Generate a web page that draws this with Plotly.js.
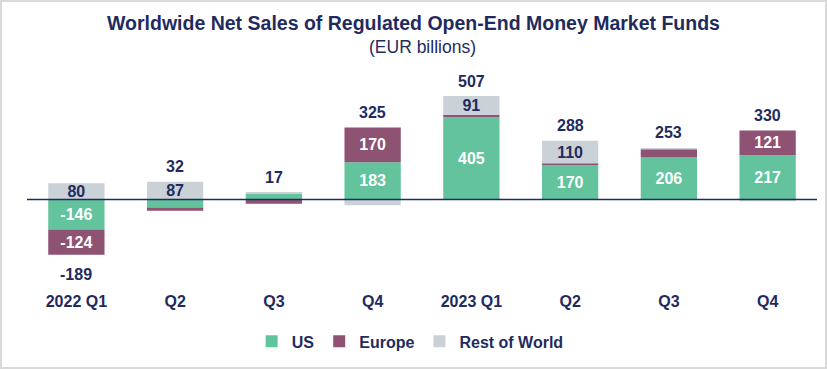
<!DOCTYPE html>
<html>
<head>
<meta charset="utf-8">
<script src="https://cdn.plot.ly/plotly-3.0.1.min.js"></script>
<style>
  html, body { margin: 0; padding: 0; background: #ffffff; }
  #wrap { position: relative; width: 827px; height: 369px; }
  #chart { width: 827px; height: 369px; }
  #frame { position: absolute; left: 0; top: 0; width: 827px; height: 369px; box-sizing: border-box; border: 2px solid #d9d9d9; pointer-events: none; }
</style>
</head>
<body>
<div id="wrap"><div id="chart"></div><div id="frame"></div></div>
<script>
// ---- data ----
const quarters = ['2022Q1', '2022Q2', '2022Q3', '2022Q4', '2023Q1', '2023Q2', '2023Q3', '2023Q4'];
const tickLabels = ['2022 Q1', 'Q2', 'Q3', 'Q4', '2023 Q1', 'Q2', 'Q3', 'Q4'];
const us = [-146, -39, 27, 183, 405, 170, 206, 217];
const europe = [-124, -16, -20, 170, 11, 8, 41, 121];
const restOfWorld = [80, 87, 10, -28, 91, 110, 6, -8];
const totals = [-189, 32, 17, 325, 507, 288, 253, 330];

const navy = '#1f2b5e';
const font = '"Liberation Sans", Arial, sans-serif';
const labelMin = 50;
const lbl = arr => arr.map(v => Math.abs(v) >= labelMin ? String(v) : '');

function barTrace(name, vals, color, txtColor) {
  return {
    type: 'bar', name: name, x: quarters, y: vals,
    marker: { color: color },
    text: lbl(vals), textposition: 'inside', insidetextanchor: 'middle',
    textangle: 0, constraintext: 'none',
    insidetextfont: { family: font, size: 16, color: txtColor, weight: 'bold' },
    hoverinfo: 'x+y+name'
  };
}

const data = [
  barTrace('US', us, '#62c39c', '#ffffff'),
  barTrace('Europe', europe, '#8e5272', '#ffffff'),
  barTrace('Rest of World', restOfWorld, '#cbd2d7', navy)
];

const annotations = quarters.map((q, i) => {
  const pos = [us[i], europe[i], restOfWorld[i]].filter(v => v > 0).reduce((a, b) => a + b, 0);
  const neg = [us[i], europe[i], restOfWorld[i]].filter(v => v < 0).reduce((a, b) => a + b, 0);
  const below = totals[i] < 0;
  return {
    x: q, y: below ? neg : pos, xref: 'x', yref: 'y',
    text: '<b>' + totals[i] + '</b>', showarrow: false,
    yanchor: 'middle', yshift: below ? -20 : 15,
    font: { family: font, size: 16, color: navy }
  };
});
annotations.push({
  x: 0.5, y: 1.155, xref: 'paper', yref: 'paper', xanchor: 'center', yanchor: 'middle',
  text: '(EUR billions)', showarrow: false,
  font: { family: font, size: 17.5, color: navy }
});

const layout = {
  width: 827, height: 369,
  margin: { l: 27, r: 10, t: 80, b: 77 },
  paper_bgcolor: '#ffffff', plot_bgcolor: '#ffffff',
  barmode: 'relative', bargap: 0.43,
  title: {
    text: '<b>Worldwide Net Sales of Regulated Open-End Money Market Funds</b>',
    x: 0.5, xanchor: 'center', y: 1 - 23 / 369, yanchor: 'middle',
    font: { family: font, size: 19.5, color: navy }
  },
  xaxis: {
    type: 'category', tickvals: quarters, ticktext: tickLabels,
    showline: false, showgrid: false, zeroline: false, ticks: '',
    tickfont: { family: font, size: 16, color: navy, weight: 'bold' }
  },
  yaxis: {
    range: [-443, 586], showticklabels: false, showgrid: false,
    zeroline: false, showline: false, ticks: ''
  },
  shapes: [{
    type: 'line', xref: 'paper', yref: 'y', x0: 0, x1: 1, y0: 0, y1: 0,
    line: { color: navy, width: 1.5 }, layer: 'above'
  }],
  legend: {
    orientation: 'h', x: 0.485, xanchor: 'center', y: -0.245, yanchor: 'middle',
    font: { family: font, size: 16, color: navy, weight: 'bold' },
    itemwidth: 30, traceorder: 'normal'
  },
  uniformtext: { mode: 'show', minsize: 16 },
  annotations: annotations,
  showlegend: true
};

Plotly.newPlot('chart', data, layout, { displayModeBar: false, staticPlot: true });
</script>
</body>
</html>
